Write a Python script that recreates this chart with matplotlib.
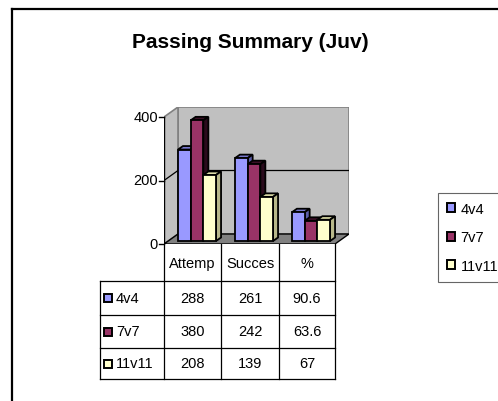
import matplotlib
matplotlib.use("Agg")
import matplotlib.pyplot as plt
from matplotlib.patches import Polygon, Patch, Rectangle

plt.rcParams['font.family'] = ['Liberation Sans', 'DejaVu Sans']

# data
categories = ["Attemp", "Succes", "%"]
series = ["4v4", "7v7", "11v11"]
val_4v4 = [288, 261, 90.6]
val_7v7 = [380, 242, 63.6]
val_11v11 = [208, 139, 67]
cell_text = [["288", "261", "90.6"], ["380", "242", "63.6"], ["208", "139", "67"]]
yticks = [0, 200, 400]

values = [val_4v4, val_7v7, val_11v11]
front = ["#9999FF", "#993366", "#FFFFCC"]
top_c = ["#7777CC", "#3A0F26", "#DDDDA8"]
side_c = ["#5C5CA8", "#2A0A1C", "#B8B88A"]
FS = 10.5

W, H = 498, 402
fig = plt.figure(figsize=(W / 100, H / 100), dpi=100)

# overlay in pixel coords for frame, table, legend
ov = fig.add_axes([0, 0, 1, 1])
ov.set_xlim(0, W)
ov.set_ylim(H, 0)
ov.axis("off")

ov.plot([12, 12], [10, H + 5], color="black", lw=1.6, clip_on=False)
ov.plot([12, W + 5], [10, 10], color="black", lw=1.6, clip_on=False)
ov.text(250, 43, "Passing Summary (Juv)", ha="center", va="center",
        fontsize=15, fontweight="bold")

# plot area (3D-looking column chart)
PX = 57.0          # px per category
VPX = 127 / 400.0  # px per value unit
dx_px, dy_px = 14, 10
left_px, bot_px = 164, 245
w_px = 3 * PX + dx_px
top_px = 108
ax = fig.add_axes([left_px / W, (H - bot_px) / H, w_px / W, (bot_px - top_px) / H])
ax.set_xlim(-0.5, -0.5 + w_px / PX)
ax.set_ylim(0, (bot_px - top_px) / VPX)
ax.axis("off")

DX = dx_px / PX
DY = dy_px / VPX
ymax = 400
x0, x1 = -0.5, 2.5

# walls and floor
ax.add_patch(Polygon([(x0 + DX, DY), (x1 + DX, DY), (x1 + DX, ymax + DY), (x0 + DX, ymax + DY)],
                     closed=True, facecolor="#C0C0C0", edgecolor="#808080", lw=1.2, zorder=0))
ax.add_patch(Polygon([(x0, 0), (x0 + DX, DY), (x0 + DX, ymax + DY), (x0, ymax)],
                     closed=True, facecolor="#C0C0C0", edgecolor="#808080", lw=1.2, zorder=0))
ax.add_patch(Polygon([(x0, 0), (x1, 0), (x1 + DX, DY), (x0 + DX, DY)],
                     closed=True, facecolor="#808080", edgecolor="black", lw=1, zorder=1))
for t in yticks[1:-1]:
    ax.plot([x0, x0 + DX, x1 + DX], [t, t + DY, t + DY], color="black", lw=0.9, zorder=1)
ax.plot([x0, x0], [0, ymax], color="black", lw=1, zorder=2)
for t in yticks:
    ax.plot([x0 - 5 / PX, x0], [t, t], color="black", lw=1, clip_on=False, zorder=2)
    ax.text(x0 - 6 / PX, t, str(t), ha="right", va="center", fontsize=FS, clip_on=False)

# bars
bw = 12.7 / PX
ox, oy = 4.5 / PX, 3 / VPX
bdx, bdy = 5 / PX, 3.5 / VPX
for j in range(len(categories)):
    start = j - 1.5 * bw + ox
    for i in range(len(series)):
        v = values[i][j]
        x = start + i * bw
        ax.add_patch(Polygon([(x, oy + v), (x + bw, oy + v), (x + bw + bdx, oy + v + bdy),
                              (x + bdx, oy + v + bdy)], closed=True, facecolor=top_c[i],
                             edgecolor="black", lw=1.3, zorder=3 + i))
        ax.add_patch(Polygon([(x + bw, oy), (x + bw + bdx, oy + bdy), (x + bw + bdx, oy + v + bdy),
                              (x + bw, oy + v)], closed=True, facecolor=side_c[i],
                             edgecolor="black", lw=1.3, zorder=3 + i))
        ax.bar(x, v, width=bw, bottom=oy, align="edge", color=front[i],
               edgecolor="black", lw=1.3, zorder=3 + i + 0.5)

# data table under the chart
col_x = [164, 221, 279, 335]
row_y = [245, 282, 316, 349, 380]
lab_x = 100
for xv in col_x:
    ov.plot([xv, xv], [row_y[0], row_y[-1]], color="black", lw=0.9)
ov.plot([lab_x, lab_x], [row_y[1], row_y[-1]], color="black", lw=0.9)
for yv in row_y[1:]:
    ov.plot([lab_x, col_x[-1]], [yv, yv], color="black", lw=0.9)
for c, name in enumerate(categories):
    ov.text((col_x[c] + col_x[c + 1]) / 2, (row_y[0] + row_y[1]) / 2 + 1, name,
            ha="center", va="center", fontsize=FS)
for r, name in enumerate(series):
    yc = (row_y[r + 1] + row_y[r + 2]) / 2
    ov.add_patch(Rectangle((104, yc - 4), 8, 8, facecolor=front[r], edgecolor="black", lw=1.4))
    ov.text(116, yc, name, ha="left", va="center", fontsize=FS)
    for c in range(len(categories)):
        ov.text((col_x[c] + col_x[c + 1]) / 2, yc, cell_text[r][c],
                ha="center", va="center", fontsize=FS)

# legend
handles = [Patch(facecolor=front[i], edgecolor="black", lw=1.4) for i in range(len(series))]
leg = fig.legend(handles, series, loc="upper left", bbox_to_anchor=(438 / W, 1 - 194 / H),
                 fontsize=FS, frameon=True, fancybox=False, handlelength=0.55, handleheight=0.55,
                 handletextpad=0.4, labelspacing=1.0, borderpad=0.6, borderaxespad=0)
leg.get_frame().set_edgecolor("#404040")
leg.get_frame().set_linewidth(0.8)

fig.savefig("out.png", dpi=100)
